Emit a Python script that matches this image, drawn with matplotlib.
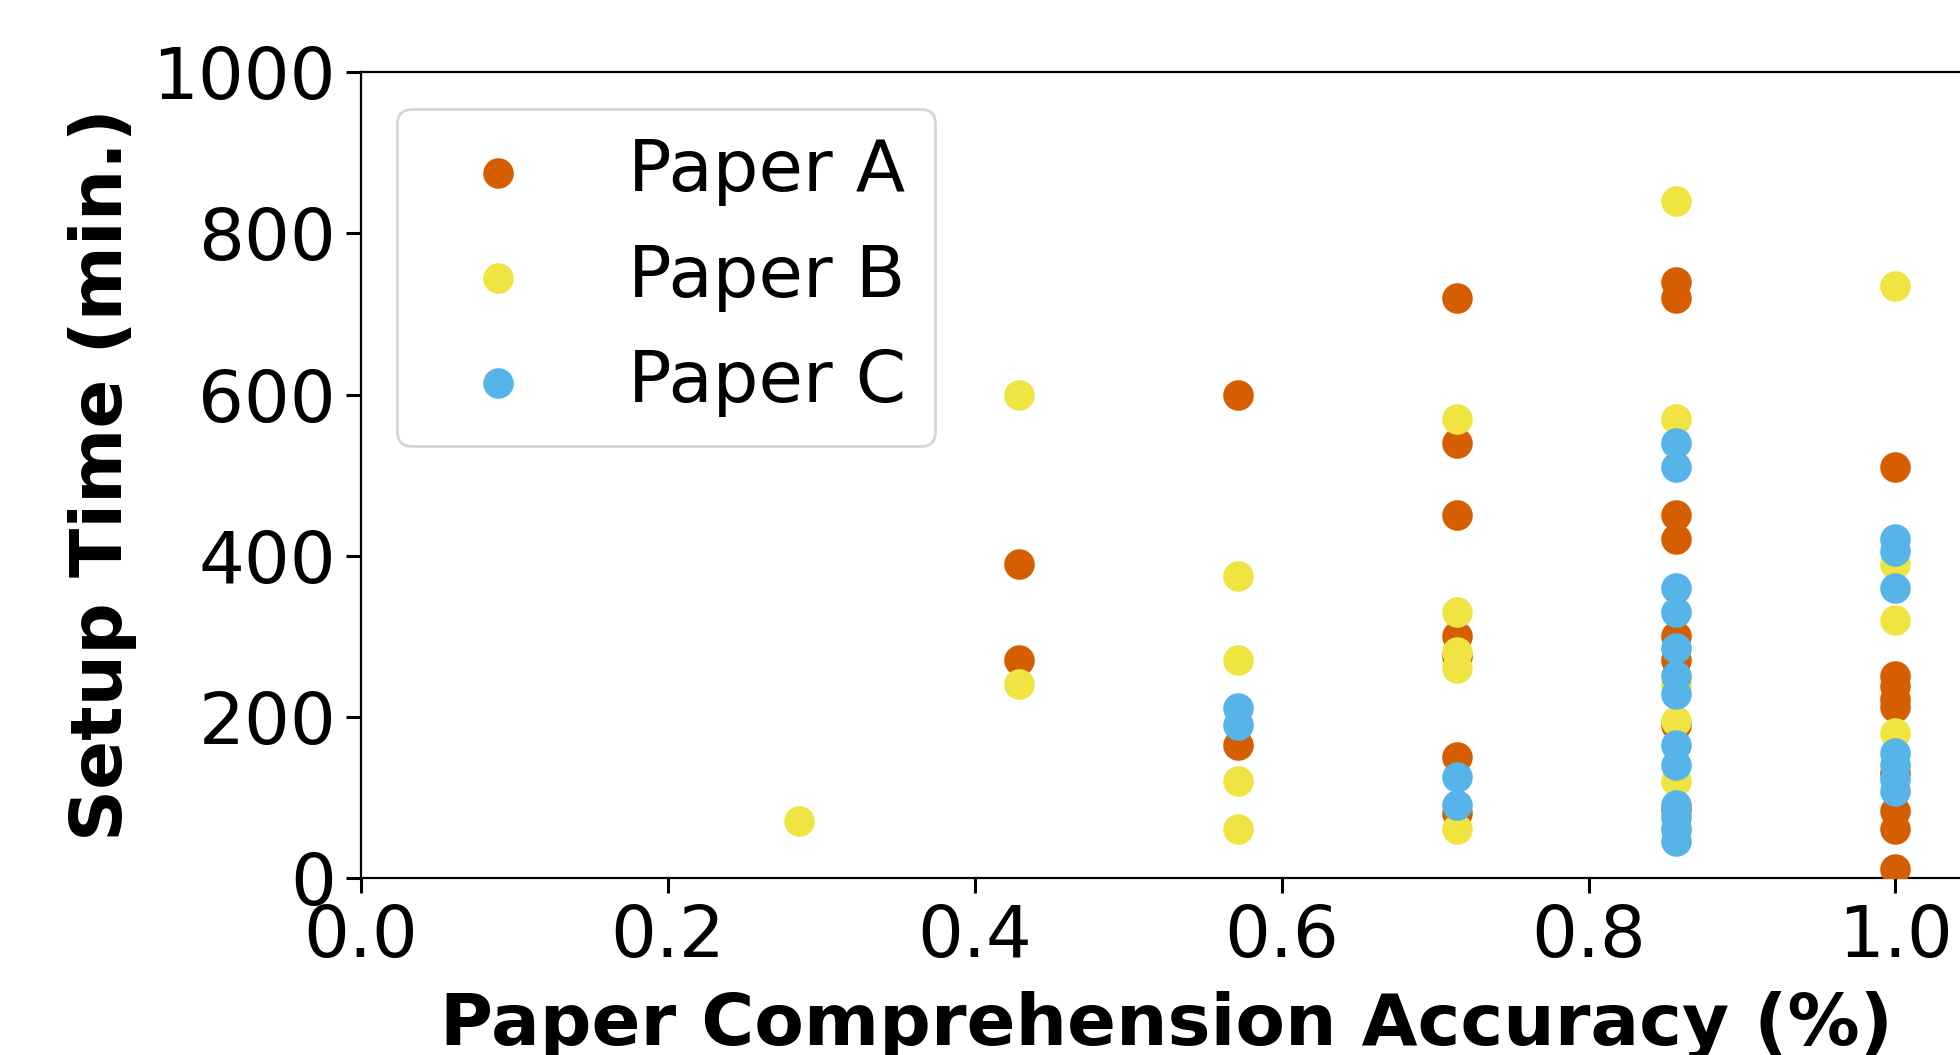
import matplotlib
matplotlib.use("Agg")
import matplotlib.pyplot as plt

# accuracy levels (k/7 correct answers)
acc_a = [3/7, 3/7,
         4/7, 4/7,
         5/7, 5/7, 5/7, 5/7, 5/7, 5/7, 5/7,
         6/7, 6/7, 6/7, 6/7, 6/7, 6/7, 6/7, 6/7,
         1.0, 1.0, 1.0, 1.0, 1.0, 1.0, 1.0, 1.0, 1.0]
time_a = [390, 270,
          600, 165,
          720, 540, 450, 300, 275, 150, 80,
          740, 720, 450, 420, 300, 270, 190, 85,
          510, 250, 238, 222, 212, 130, 83, 60, 10]

acc_b = [2/7,
         3/7, 3/7,
         4/7, 4/7, 4/7, 4/7,
         5/7, 5/7, 5/7, 5/7, 5/7,
         6/7, 6/7, 6/7, 6/7, 6/7, 6/7,
         1.0, 1.0, 1.0, 1.0]
time_b = [70,
          600, 240,
          375, 270, 120, 60,
          570, 330, 280, 260, 60,
          840, 570, 240, 195, 120, 60,
          735, 390, 320, 180]

acc_c = [4/7, 4/7,
         5/7, 5/7,
         6/7, 6/7, 6/7, 6/7, 6/7, 6/7, 6/7, 6/7, 6/7, 6/7, 6/7, 6/7, 6/7,
         1.0, 1.0, 1.0, 1.0, 1.0, 1.0, 1.0]
time_c = [210, 190,
          125, 90,
          540, 510, 360, 330, 285, 250, 228, 165, 140, 90, 75, 60, 45,
          420, 405, 360, 155, 140, 122, 107]

fig = plt.figure(figsize=(9.8, 5.275), dpi=200)
ax = fig.add_axes([0.1842, 0.1682, 0.822, 0.7631])

ax.scatter(acc_a, time_a, s=100, color='#D55E00', label='Paper A', zorder=3)
ax.scatter(acc_b, time_b, s=100, color='#F0E442', label='Paper B', zorder=3)
ax.scatter(acc_c, time_c, s=100, color='#56B4E9', label='Paper C', zorder=3)

ax.set_xlim(0, 1.05)
ax.set_ylim(0, 1000)
ax.set_xticks([0.0, 0.2, 0.4, 0.6, 0.8, 1.0])
ax.set_yticks([0, 200, 400, 600, 800, 1000])
ax.tick_params(labelsize=26, length=5.5, width=1.1)

ax.set_xlabel('Paper Comprehension Accuracy (%)', fontsize=26, fontweight='bold', labelpad=7)
ax.set_ylabel('Setup Time (min.)', fontsize=26, fontweight='bold', labelpad=5.5)

ax.legend(loc='upper left', fontsize=26)

fig.savefig('out.png', dpi=200)
